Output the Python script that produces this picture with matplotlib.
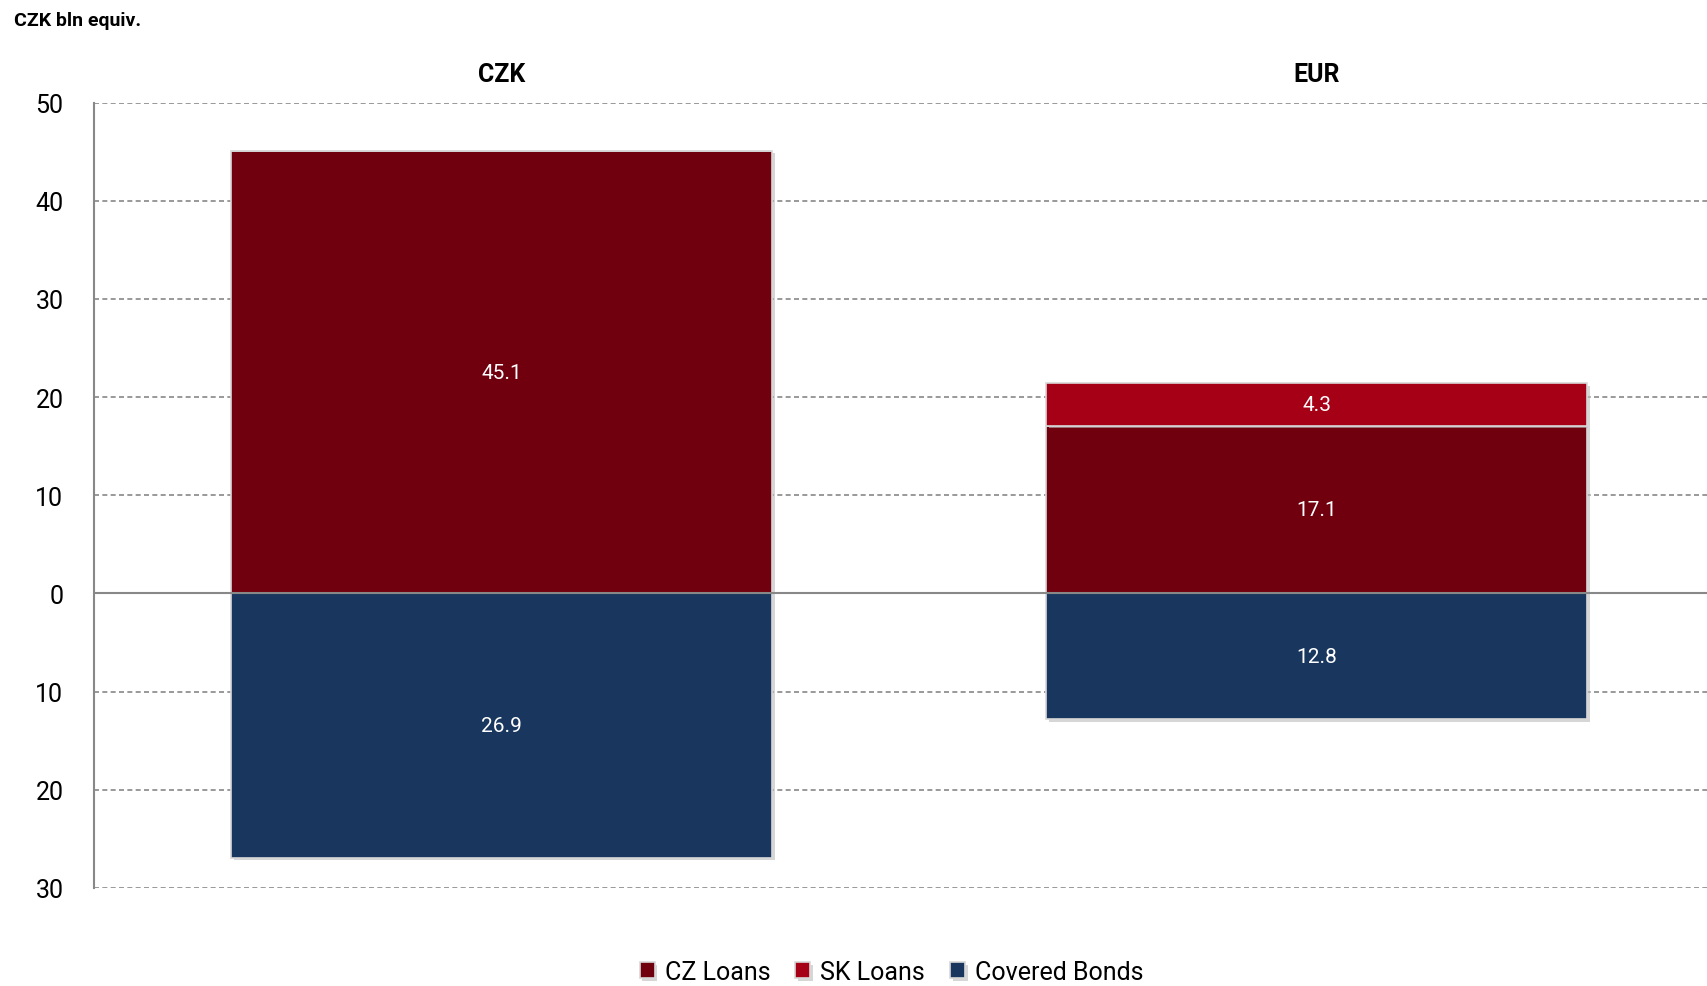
import numpy as np
import matplotlib.pyplot as plt
import matplotlib.patheffects as pe
plt.rcParams['font.family'] = ['Roboto', 'DejaVu Sans']

# data
categories = ['CZK', 'EUR']
cz_loans = [45.1, 17.1]
sk_loans = [0.0, 4.3]
covered_bonds = [26.9, 12.8]
yticks = [50, 40, 30, 20, 10, 0, -10, -20, -30]

c_cz = '#70000e'
c_sk = '#a50016'
c_cb = '#19375e'

fig = plt.figure(figsize=(17.08, 9.87), dpi=100)
ax = fig.add_axes([0.055, 0.0993, 0.945, 0.7958])

x = np.arange(len(categories))
w = 0.664
shadow = [pe.SimplePatchShadow(offset=(2, -2), shadow_rgbFace='#bbbbbb', alpha=0.6), pe.Normal()]

b1 = ax.bar(x, cz_loans, w, color=c_cz, edgecolor='#d8d8d8', linewidth=1.2, label='CZ Loans', zorder=3)
b2 = ax.bar(x, sk_loans, w, bottom=cz_loans, color=c_sk, edgecolor='#d8d8d8', linewidth=1.2, label='SK Loans', zorder=3)
b3 = ax.bar(x, -np.array(covered_bonds), w, color=c_cb, edgecolor='#d8d8d8', linewidth=1.2, label='Covered Bonds', zorder=3)
for bars in (b1, b2, b3):
    for p in bars:
        p.set_path_effects(shadow)

# value labels
for i in range(len(categories)):
    ax.text(x[i], cz_loans[i] / 2, f'{cz_loans[i]:.1f}', ha='center', va='center', color='white', fontsize=15, zorder=4)
    if sk_loans[i] > 0:
        ax.text(x[i], cz_loans[i] + sk_loans[i] / 2, f'{sk_loans[i]:.1f}', ha='center', va='center', color='white', fontsize=15, zorder=4)
    ax.text(x[i], -covered_bonds[i] / 2, f'{covered_bonds[i]:.1f}', ha='center', va='center', color='white', fontsize=15, zorder=4)
    ax.text(x[i], 52.9, categories[i], ha='center', va='center', fontsize=18, fontweight='bold', color='black')

ax.set_xlim(-0.5, 1.48)
ax.set_ylim(-30, 50)
ax.set_yticks(yticks)
ax.set_yticklabels([str(abs(t)) for t in yticks])
ax.set_xticks([])
ax.tick_params(axis='y', length=0, labelsize=18, pad=22)

for t in yticks:
    if t == 0:
        ax.axhline(0, color='#888888', lw=1.5, zorder=4)
    else:
        ax.axhline(t, color='#888888', lw=1.2, ls=(0, (3, 2)), zorder=1)

for s in ['top', 'right', 'bottom']:
    ax.spines[s].set_visible(False)
ax.spines['left'].set_color('#888888')
ax.spines['left'].set_linewidth(1.5)

fig.text(0.008, 0.979, 'CZK bln equiv.', fontsize=14, fontweight='bold', va='center', ha='left')

leg = fig.legend(handles=[b1, b2, b3], loc='center', bbox_to_anchor=(0.522, 0.0145), ncol=3, frameon=False,
                 fontsize=18, handlelength=0.6, handleheight=0.6, handletextpad=0.4, columnspacing=1.0)

fig.savefig('out.png', dpi=100)
